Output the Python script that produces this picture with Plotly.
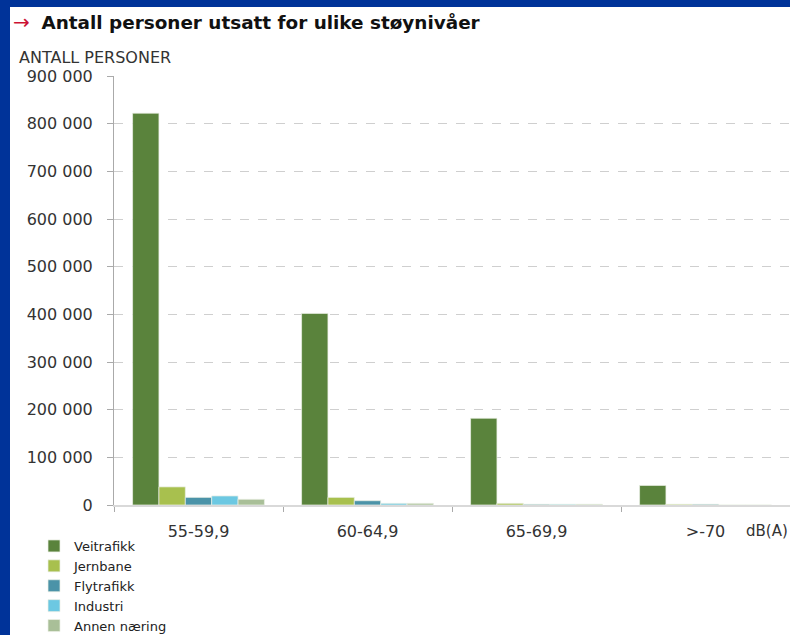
import plotly.graph_objects as go

categories = ["55-59,9", "60-64,9", "65-69,9", ">-70"]
series_names = ["Veitrafikk", "Jernbane", "Flytrafikk", "Industri", "Annen næring"]
veitrafikk = [822000, 402000, 182000, 41000]
jernbane = [38000, 16000, 3500, 1500]
flytrafikk = [16000, 9000, 1500, 1500]
industri = [19000, 3500, 1500, 0]
annen = [12000, 3500, 1500, 0]
colors = ["#5a833c", "#a8c04e", "#4b93a8", "#6cc8e2", "#a9bf98"]
ytick_vals = [0, 100000, 200000, 300000, 400000, 500000, 600000, 700000, 800000, 900000]
ytick_text = ["0", "100 000", "200 000", "300 000", "400 000", "500 000",
              "600 000", "700 000", "800 000", "900 000"]

FONT = "DejaVu Sans, Verdana, sans-serif"
W, H = 790, 635
ML, MR, MT, MB = 114, 0, 76, 130
pw = W - ML - MR
ph = H - MT - MB

def px_x(x):
    return (x - ML) / pw

def px_y(y):
    return (H - MB - y) / ph

fig = go.Figure()
for name, vals, col in zip(series_names, [veitrafikk, jernbane, flytrafikk, industri, annen], colors):
    fig.add_trace(go.Bar(
        x=categories, y=vals, name=name,
        marker=dict(color=col, line=dict(color="rgba(235,240,230,0.9)", width=0.8)),
    ))

fig.update_layout(
    width=W, height=H,
    margin=dict(l=ML, r=MR, t=MT, b=MB, pad=0, autoexpand=False),
    paper_bgcolor="white", plot_bgcolor="white",
    font=dict(family=FONT, size=15, color="#333333"),
    barmode="group", bargap=0.22, bargroupgap=0,
    showlegend=True,
    legend=dict(
        x=px_x(34), y=px_y(531), xanchor="left", yanchor="top",
        orientation="v", traceorder="normal",
        font=dict(family=FONT, size=13, color="#222222"),
        bgcolor="rgba(0,0,0,0)", tracegroupgap=0, itemwidth=30,
    ),
    xaxis=dict(
        showgrid=False, showline=True, linecolor="#d9d9d9", linewidth=2,
        ticks="outside", tickson="boundaries", ticklen=5, tickcolor="#aaaaaa",
        tickfont=dict(family=FONT, size=16, color="#333333"),
        ticklabelstandoff=11,
    ),
    yaxis=dict(
        range=[0, 900000], tickvals=ytick_vals, ticktext=ytick_text,
        showgrid=True, gridcolor="#cfcfcf", griddash="dash", gridwidth=1,
        showline=True, linecolor="#aaaaaa", linewidth=1,
        ticks="outside", ticklen=6, tickcolor="#aaaaaa",
        tickfont=dict(family=FONT, size=16, color="#333333"),
        ticklabelstandoff=11, zeroline=False,
    ),
)

# blue frame
fig.add_shape(type="rect", xref="paper", yref="paper",
              x0=px_x(0), x1=px_x(10), y0=px_y(H), y1=px_y(0),
              fillcolor="#003399", line=dict(width=0), layer="above")
fig.add_shape(type="rect", xref="paper", yref="paper",
              x0=px_x(0), x1=px_x(W), y0=px_y(7), y1=px_y(0),
              fillcolor="#003399", line=dict(width=0), layer="above")

fig.add_annotation(
    xref="paper", yref="paper", x=px_x(11), y=px_y(22),
    xanchor="left", yanchor="middle", showarrow=False,
    text="<span style='color:#cc1133;font-size:20px'>→</span>  <b>Antall personer utsatt for ulike støynivåer</b>",
    font=dict(family=FONT, size=18.4, color="#111111"),
)
fig.add_annotation(
    xref="paper", yref="paper", x=px_x(17), y=px_y(57),
    xanchor="left", yanchor="middle", showarrow=False,
    text="ANTALL PERSONER",
    font=dict(family=FONT, size=16, color="#333333"),
)
fig.add_annotation(
    xref="paper", yref="paper", x=px_x(790), y=px_y(531),
    xanchor="right", yanchor="middle", showarrow=False,
    text="dB(A)",
    font=dict(family=FONT, size=15, color="#333333"),
)

fig.write_html("out.html", config={"displayModeBar": False},
               post_script="document.body.style.margin='0';")
